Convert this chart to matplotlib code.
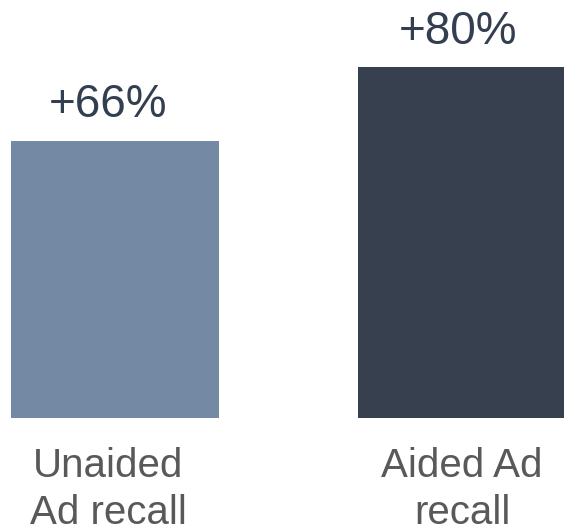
import matplotlib
matplotlib.use("Agg")
import matplotlib.pyplot as plt

categories = ["Unaided\nAd recall", "Aided Ad\nrecall"]
values = [66, 80]
labels = ["+66%", "+80%"]
colors = ["#7489A4", "#36404F"]
value_color = "#333F50"
cat_color = "#595959"

plt.rcParams['font.family'] = ['Liberation Sans', 'DejaVu Sans']

fig = plt.figure(figsize=(5.64, 5.27), dpi=100)
ax = fig.add_axes([0, 0.2068, 1, 0.7932])

x = range(len(categories))
ax.bar(x, values, width=0.6, color=colors)
ax.set_xlim(-0.333, 1.294)
ax.set_ylim(13.6, 92.7)

# small left shifts seen in the original layout
dx_val = [-5, -3]
dx_cat = [-5, 0]

for xi, v, lab, d in zip(x, values, labels, dx_val):
    ax.annotate(lab, (xi, v), xytext=(d, 17), textcoords="offset points",
                ha="center", va="baseline", fontsize=33, color=value_color)

for xi, cat, d in zip(x, categories, dx_cat):
    ax.annotate(cat, (xi, 0), xycoords=("data", "axes fraction"),
                xytext=(d, -21), textcoords="offset points",
                ha="center", va="top", fontsize=29, color=cat_color,
                linespacing=1.3)

ax.set_xticks([])
ax.set_yticks([])
for s in ax.spines.values():
    s.set_visible(False)

fig.savefig("out.png", dpi=100)
